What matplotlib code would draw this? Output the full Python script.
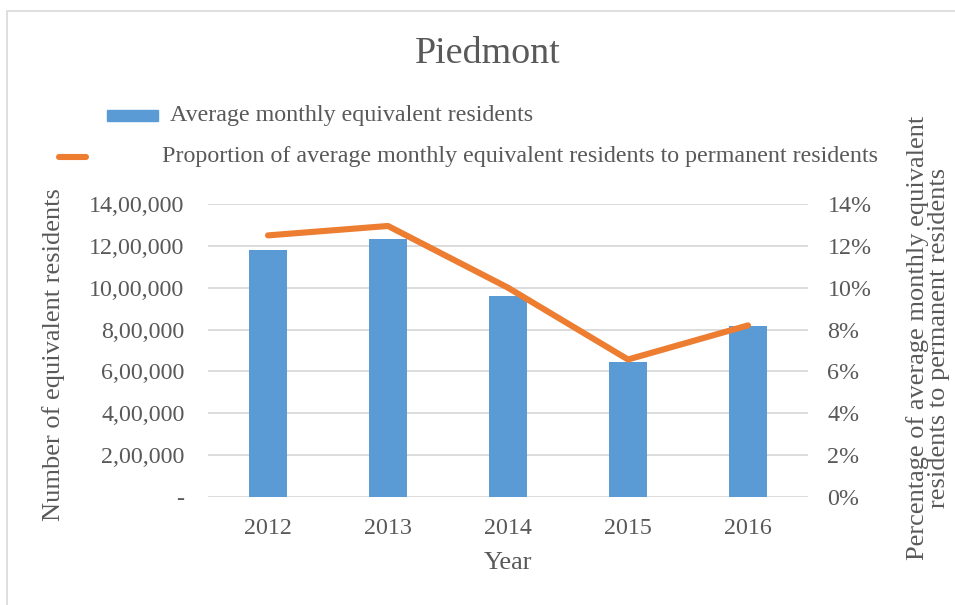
import matplotlib
matplotlib.use("Agg")
import matplotlib.pyplot as plt
from matplotlib.patches import Rectangle
from matplotlib.lines import Line2D
from matplotlib.ticker import FuncFormatter

years = ["2012", "2013", "2014", "2015", "2016"]
equiv_residents = [1179000, 1235000, 962000, 644000, 816000]
proportion_pct = [12.5, 12.95, 10.0, 6.57, 8.2]
left_ticks = [0, 200000, 400000, 600000, 800000, 1000000, 1200000, 1400000]
right_ticks = [0, 2, 4, 6, 8, 10, 12, 14]

TXT = "#595959"
BAR = "#5B9BD5"
LINE = "#ED7D31"
GRID = "#D9D9D9"

plt.rcParams["font.family"] = ["Liberation Serif", "DejaVu Serif"]

fig = plt.figure(figsize=(9.55, 6.05), dpi=100)
W, H = 955, 605
ax = fig.add_axes([208 / W, 1 - 497 / H, 600 / W, 293 / H])
ax2 = ax.twinx()

x = list(range(len(years)))
ax.bar(x, equiv_residents, width=0.31, color=BAR, zorder=2)
ax2.plot(x, proportion_pct, color=LINE, lw=4.4, solid_capstyle="round", zorder=3)

ax.set_xlim(-0.5, len(years) - 0.5)
ax.set_ylim(0, 1400000)
ax2.set_ylim(0, 14)
ax.set_yticks(left_ticks)
ax2.set_yticks(right_ticks)


def indian(v, pos):
    v = int(round(v))
    if v == 0:
        return "-"
    s = str(v)
    last3 = s[-3:]
    rest = s[:-3]
    parts = []
    while len(rest) > 2:
        parts.insert(0, rest[-2:])
        rest = rest[:-2]
    if rest:
        parts.insert(0, rest)
    return ",".join(parts + [last3])


ax.yaxis.set_major_formatter(FuncFormatter(indian))
ax2.yaxis.set_major_formatter(FuncFormatter(lambda v, p: f"{int(round(v))}%"))
ax.set_xticks(x)
ax.set_xticklabels(years)

for a in (ax, ax2):
    for s in a.spines.values():
        s.set_visible(False)
    a.tick_params(length=0, colors=TXT, labelsize=17.3)
ax.tick_params(axis="y", pad=17)
ax2.tick_params(axis="y", pad=14)
ax.tick_params(axis="x", pad=15)

ax.grid(axis="y", color=GRID, lw=1.3, zorder=0)
ax.set_axisbelow(True)

fig.text(508 / W, 1 - 563 / H, "Year", fontsize=19, color=TXT, ha="center", va="center")
fig.text(54 / W, 1 - 355 / H, "Number of equivalent residents", fontsize=19, color=TXT,
         ha="center", va="center", rotation=90)
fig.text(928 / W, 1 - 338 / H,
         "Percentage of average monthly equivalent\nresidents to permanent residents",
         fontsize=19, color=TXT, ha="center", va="center", rotation=90,
         multialignment="center", linespacing=0.95)

fig.text(488 / W, 1 - 54 / H, "Piedmont", fontsize=27.4, color=TXT, ha="center", va="center")

# legend
fig.patches.append(Rectangle((107 / W, 1 - 121 / H), 51 / W, 11 / H,
                             transform=fig.transFigure, color=BAR, figure=fig))
fig.text(170 / W, 1 - 115 / H, "Average monthly equivalent residents", fontsize=17.3,
         color=TXT, va="center", ha="left")
fig.lines.append(Line2D([59 / W, 86 / W], [1 - 157 / H, 1 - 157 / H], transform=fig.transFigure,
                        color=LINE, lw=4.4, solid_capstyle="round"))
fig.text(162 / W, 1 - 157 / H,
         "Proportion of average monthly equivalent residents to permanent residents",
         fontsize=17.3, color=TXT, va="center", ha="left")

# outer chart border
fig.patches.append(Rectangle((7 / W, -0.05), 1.0, 1 - 11 / H + 0.05, transform=fig.transFigure,
                             fill=False, edgecolor="#D9D9D9", lw=1.2, figure=fig))

fig.savefig("out.png", dpi=100)
